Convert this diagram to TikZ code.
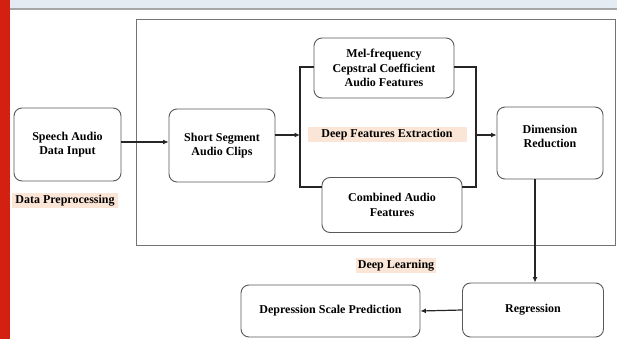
\documentclass[tikz,border=0pt]{standalone}
\usepackage{fontspec}
\setmainfont{Liberation Serif}
\usetikzlibrary{arrows.meta,positioning}
\definecolor{topband}{HTML}{E4EBF3}
\definecolor{sidered}{HTML}{D42011}
\definecolor{labelbg}{HTML}{FBE5D6}
\tikzset{
  stage/.style={draw=black!65, line width=0.9pt, rounded corners=8pt, fill=white,
    align=center, font=\fontsize{12}{14.5}\selectfont\bfseries, inner sep=2pt},
  tag/.style={fill=labelbg, inner sep=2pt, font=\fontsize{12}{13}\selectfont\bfseries},
  flow/.style={line width=1.2pt, black!85},
  arr/.style={flow, -{Latex[length=5.5pt,width=5pt]}}
}
\begin{document}
\begin{tikzpicture}[x=1pt,y=-1pt]
    \useasboundingbox (0,0) rectangle (617,339);
    % Page decoration
    \fill[white] (0,0) rectangle (617,339);
    \fill[topband] (10,0) rectangle (617,8);
    \fill[black!35] (10,8) rectangle (617,10.5);
    \fill[sidered] (0,0) rectangle (10,339);

    % Deep learning frame
    \draw[black!55, line width=0.9pt] (136,19) rectangle (615,245);

    % Stages
    \node[stage, minimum width=107pt, minimum height=73pt] (speech) at (67.5,144.5) {Speech Audio\\Data Input};
    \node[stage, minimum width=106pt, minimum height=73pt] (short) at (222,145.5) {Short Segment\\Audio Clips};
    \node[stage, minimum width=140pt, minimum height=60pt] (mel) at (384,68) {Mel-frequency\\Cepstral Coefficient\\Audio Features};
    \node[stage, minimum width=140pt, minimum height=55pt] (comb) at (392,205) {Combined Audio\\Features};
    \node[stage, minimum width=106pt, minimum height=72pt] (dim) at (550,143) {Dimension\\Reduction\\[-1pt]};
    \node[stage, minimum width=141pt, minimum height=54pt] (regr) at (533,310) {Regression};
    \node[stage, minimum width=179pt, minimum height=52pt] (pred) at (330.5,311) {Depression Scale Prediction};

    % Labels
    \node[tag, minimum width=106pt] (prep) at (65,200.5) {Data Preprocessing};
    \node[tag, minimum width=159pt] (dfe) at (387,134.5) {Deep Features Extraction};
    \node[tag] (dl) at (396,265.5) {Deep Learning};

    % Split / merge points
    \coordinate (splitL) at (300,135);
    \coordinate (splitR) at (476,135);

    % Connectors
    \draw[arr] (speech.east |- 0,142) -- (short.west |- 0,142);
    \draw[arr] (short.east |- splitL) -- (splitL);
    \draw[flow] (mel.west |- 0,67) -| (splitL) |- ([yshift=18pt]comb.west);
    \draw[flow] (mel.east |- 0,67) -| (splitR) |- ([yshift=18pt]comb.east);
    \draw[arr] (splitR) -- (dim.west |- splitR);
    \draw[arr] (dim.south -| 535,0) -- (regr.north -| 535,0);
    \draw[arr] (regr.west) -- (pred.east);
\end{tikzpicture}
\end{document}
